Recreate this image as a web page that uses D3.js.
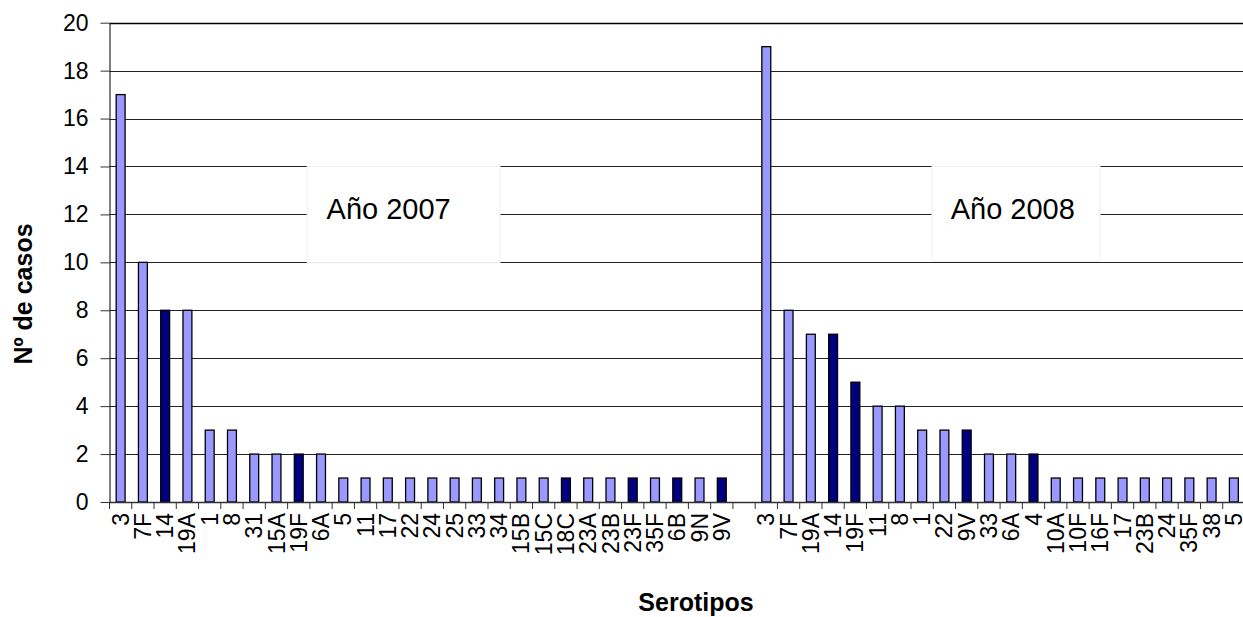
<!DOCTYPE html>
<html>
<head>
<meta charset="utf-8">
<script src="https://cdn.jsdelivr.net/npm/d3@7"></script>
<style>
  html, body { margin: 0; padding: 0; background: #fff; }
  svg { display: block; font-family: "Liberation Sans", Arial, sans-serif; }
</style>
</head>
<body>
<svg id="chart" width="1243" height="617"></svg>
<script>
// ---- Data ----
const cats2007 = ["3","7F","14","19A","1","8","31","15A","19F","6A","5","11","17","22","24","25","33","34","15B","15C","18C","23A","23B","23F","35F","6B","9N","9V"];
const vals2007 = [17,10,8,8,3,3,2,2,2,2,1,1,1,1,1,1,1,1,1,1,1,1,1,1,1,1,1,1];
const cats2008 = ["3","7F","19A","14","19F","11","8","1","22","9V","33","6A","4","10A","10F","16F","17","23B","24","35F","38","5"];
const vals2008 = [19,8,7,7,5,4,4,3,3,3,2,2,2,1,1,1,1,1,1,1,1,1];
const darkSerotypes = ["4","6B","9V","14","18C","19F","23F"];
const yTicks = [0,2,4,6,8,10,12,14,16,18,20];
const yearLabels = ["Año 2007","Año 2008"];

// Build combined table (one empty category separates years)
const rows = [];
cats2007.forEach((c,i)=>rows.push({key:"2007-"+c, label:c, value:vals2007[i]}));
rows.push({key:"gap", label:"", value:null});
cats2008.forEach((c,i)=>rows.push({key:"2008-"+c, label:c, value:vals2008[i]}));

const svg = d3.select("#chart");
const mLeft = 109.5, mRight = 1245, mTop = 22.7, mBottom = 502;

const x = d3.scaleBand().domain(rows.map(d=>d.key)).range([mLeft, mRight]).padding(0);
const y = d3.scaleLinear().domain([0,20]).range([mBottom, mTop]);
const step = x.step();
const barW = step / 2.5;
const catPos = i => mLeft + i * step; // category-index position (for annotation boxes)

// Gridlines
svg.append("g").selectAll("line").data(yTicks.filter(t=>t>0)).join("line")
  .attr("x1", mLeft).attr("x2", mRight)
  .attr("y1", d=>Math.round(y(d))+0.5).attr("y2", d=>Math.round(y(d))+0.5)
  .attr("stroke", d=> d===20 ? "#000" : "#222")
  .attr("stroke-width", d=> d===20 ? 1.5 : 1);

// Annotation boxes
const boxes = [
  {label: yearLabels[0], x0: catPos(8.88), x1: catPos(17.54), y0: y(14), y1: y(10)+0.5, tx: catPos(9.75)},
  {label: yearLabels[1], x0: catPos(36.94), x1: catPos(44.49), y0: y(14), y1: y(10)-1, tx: catPos(37.78)}
];
const bg = svg.append("g");
bg.selectAll("rect").data(boxes).join("rect")
  .attr("x", d=>d.x0).attr("y", d=>d.y0)
  .attr("width", d=>d.x1-d.x0).attr("height", d=>d.y1-d.y0)
  .attr("fill", "#fff").attr("stroke", "#f0f0f0").attr("stroke-width", 1);
bg.selectAll("text").data(boxes).join("text")
  .attr("x", d=>d.tx).attr("y", y(12)+5)
  .attr("font-size", 29).attr("fill", "#000")
  .text(d=>d.label);

// Bars
svg.append("g").selectAll("rect").data(rows.filter(d=>d.value!=null)).join("rect")
  .attr("x", d=>x(d.key) + (step - barW)/2)
  .attr("y", d=>y(d.value))
  .attr("width", barW)
  .attr("height", d=>y(0)-y(d.value))
  .attr("fill", d=> darkSerotypes.includes(d.label) ? "#000080" : "#9999FF")
  .attr("stroke", "#000").attr("stroke-width", 1.3);

// X axis
const xAxis = d3.axisBottom(x).tickSize(7).tickSizeOuter(0)
  .tickFormat(k => rows.find(r=>r.key===k).label);
const gx = svg.append("g").attr("transform", `translate(0,${mBottom})`).call(xAxis);
gx.select(".domain").attr("stroke", "#333").attr("stroke-width", 1.5);
gx.selectAll(".tick line").attr("transform", `translate(${-step/2},0)`).attr("stroke","#333");
gx.selectAll(".tick text")
  .attr("font-size", 23).attr("fill", "#000")
  .attr("font-family", "Liberation Sans, Arial, sans-serif")
  .attr("transform", "rotate(-90)")
  .attr("x", -11).attr("y", 0).attr("dy", "0.35em")
  .attr("text-anchor", "end");

// Y axis
const yAxis = d3.axisLeft(y).tickValues(yTicks).tickSize(9).tickSizeOuter(0).tickPadding(12);
const gy = svg.append("g").attr("transform", `translate(${mLeft},0)`).call(yAxis);
gy.select(".domain").attr("stroke", "#000");
gy.selectAll(".tick line").attr("stroke", "#333");
gy.selectAll(".tick text").attr("font-size", 23).attr("fill", "#000")
  .attr("font-family", "Liberation Sans, Arial, sans-serif");

// Axis titles
svg.append("text")
  .attr("transform", `translate(32,294) rotate(-90)`)
  .attr("text-anchor", "middle")
  .attr("font-size", 25).attr("font-weight", "bold")
  .text("Nº de casos");
svg.append("text")
  .attr("x", 696).attr("y", 611)
  .attr("text-anchor", "middle")
  .attr("font-size", 25).attr("font-weight", "bold")
  .text("Serotipos");
</script>
</body>
</html>
